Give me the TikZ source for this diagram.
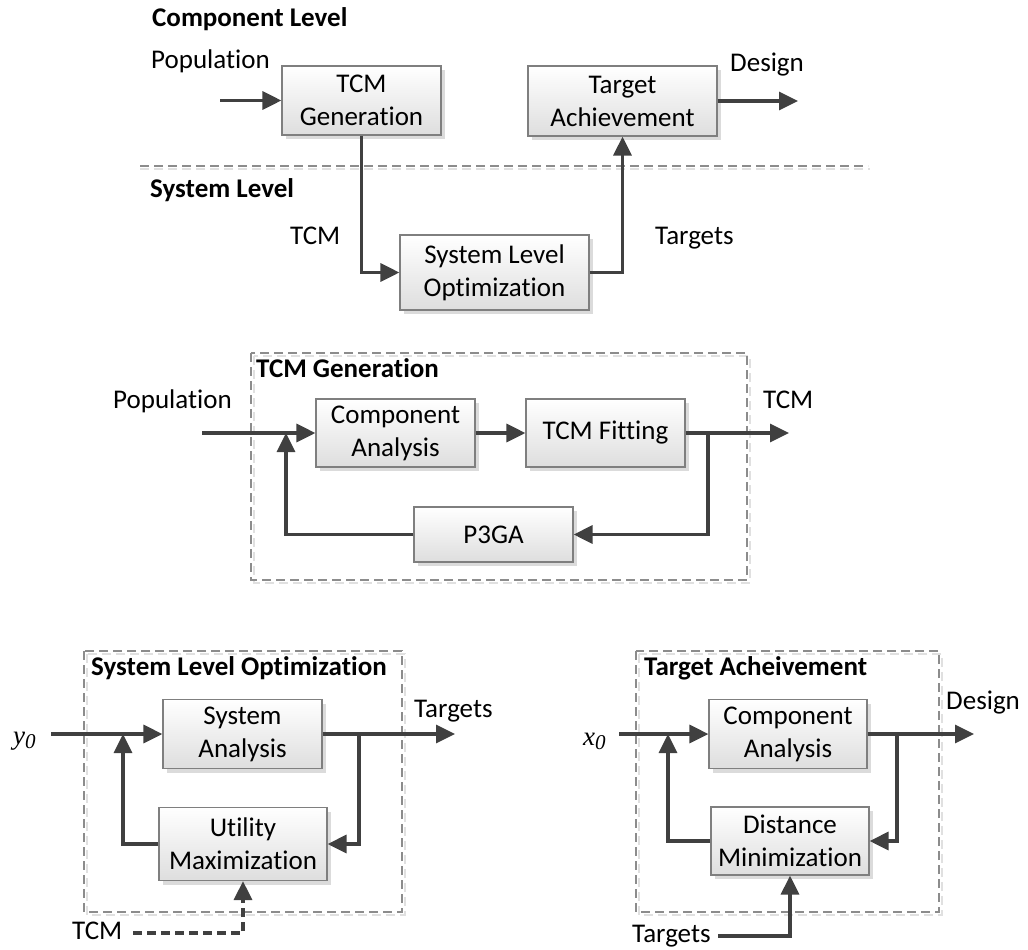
\documentclass[tikz,border=0pt]{standalone}
\usepackage{fontspec}
\setmainfont{Carlito}[RawFeature={-liga;-clig;-dlig}]
\newfontfamily\mathserif{Liberation Serif}
\usetikzlibrary{arrows.meta,shadows}

\definecolor{linegray}{HTML}{404040}
\definecolor{boxedge}{HTML}{7F7F7F}
\definecolor{framegray}{HTML}{8C8C8C}

\tikzset{
  block/.style={draw=boxedge, line width=1.2pt, top color=white, bottom color=black!13,
    align=center, inner sep=0pt, font=\fontsize{27}{33}\selectfont,
    drop shadow={shadow xshift=4pt, shadow yshift=-4pt, fill=black!14, opacity=1}},
  flow/.style={draw=linegray, line width=3.2pt},
  arr/.style={flow, -{Triangle[length=19pt, width=18pt]}},
  lbl/.style={inner sep=0pt, font=\fontsize{27}{33}\selectfont, text height=19pt, text depth=5pt},
  head/.style={lbl, font=\fontsize{27}{33}\selectfont\bfseries},
  frame/.style={draw=framegray, line width=1.2pt, dash pattern=on 9pt off 5pt},
  frameshadow/.style={draw=black!12, line width=1.2pt, dash pattern=on 9pt off 5pt},
}

\newcommand{\varsub}[2]{{\mathserif\itshape #1\raisebox{-0.35ex}{\fontsize{21}{24}\selectfont #2}}}

\begin{document}
\begin{tikzpicture}[x=1pt, y=-1pt]
\useasboundingbox[fill=white] (0,0) rectangle (1028,950);

% ---------- Component / system level overview ----------
\draw[frameshadow] (140,169) -- (870,169);
\draw[frame, draw=black!45] (140,166) -- (868,166);

\node[head, anchor=west] (hcomp) at (152,20) {Component Level};
\node[head, anchor=west] (hsys) at (150,190) {System Level};

\node[block, minimum width=159pt, minimum height=69pt] (tcmgen) at (361.5,100.5) {TCM\\Generation};
\node[block, minimum width=189pt, minimum height=70pt] (tach) at (622.5,101) {Target\\Achievement};
\node[block, minimum width=189pt, minimum height=75pt] (slo) at (494.5,272.5) {System Level\\Optimization};

\node[lbl, anchor=west] (lpop1) at (151,62) {Population};
\node[lbl, anchor=west] (ldes1) at (730,64) {Design};
\node[lbl, anchor=west] (ltcm1) at (290,237) {TCM};
\node[lbl, anchor=west] (ltar1) at (655,237) {Targets};

\coordinate (popin) at (220,100.5);
\coordinate (desout) at (798,101);

\draw[arr] (popin) -- (tcmgen.west);
\draw[arr] (tcmgen.south) |- (slo.west);
\draw[arr] (slo.east) -| (tach.south);
\draw[arr] (tach.east) -- (desout);

% ---------- TCM generation loop ----------
\draw[frameshadow] (254,356) rectangle (750,583);
\draw[frame] (251,353) rectangle (747,580);
\node[head, anchor=west] (htcm) at (256,370) {TCM Generation};

\node[block, minimum width=159pt, minimum height=68pt] (ca1) at (395.5,433) {Component\\Analysis};
\node[block, minimum width=159pt, minimum height=68pt] (fit) at (605.5,433) {TCM Fitting};
\node[block, minimum width=159pt, minimum height=55pt] (p3ga) at (493.5,534.5) {P3GA};

\node[lbl, anchor=east] (lpop2) at (232,401) {Population};
\node[lbl, anchor=west] (ltcm2) at (763,401) {TCM};

\coordinate (popin2) at (202,433);
\coordinate (tcmout) at (789,433);
\coordinate (split1) at (708,433);
\coordinate (merge1) at (286,433);

\draw[arr] (popin2) -- (ca1.west);
\draw[arr] (ca1.east) -- (fit.west);
\draw[arr] (fit.east) -- (tcmout);
\draw[arr] (split1) |- (p3ga.east);
\draw[arr] (p3ga.west) -| (merge1);

% ---------- System level optimization loop ----------
\draw[frameshadow] (87,654) rectangle (405,915);
\draw[frame] (84,651) rectangle (402,912);
\node[head, anchor=west] (hslo) at (91,668) {System Level Optimization};

\node[block, minimum width=159pt, minimum height=69pt] (sa) at (242.5,734) {System\\Analysis};
\node[block, minimum width=168pt, minimum height=73pt] (um) at (243,844) {Utility\\Maximization};

\node[lbl, anchor=west] (ly0) at (13,737) {\varsub{y}{0}};
\node[lbl, anchor=west] (ltar2) at (414,710) {Targets};
\node[lbl, anchor=west] (ltcm3) at (72,932) {TCM};

\coordinate (y0in) at (51,734);
\coordinate (tarout) at (455,734);
\coordinate (split2) at (359,734);
\coordinate (merge2) at (123,734);
\coordinate (tcmin) at (133,933);

\draw[arr] (y0in) -- (sa.west);
\draw[arr] (sa.east) -- (tarout);
\draw[arr] (split2) |- (um.east);
\draw[arr] (um.west) -| (merge2);
\draw[arr, dash pattern=on 9pt off 5pt] (tcmin) -| (um.south);

% ---------- Target achievement loop ----------
\draw[frameshadow] (639,654) rectangle (942,915);
\draw[frame] (636,651) rectangle (939,912);
\node[head, anchor=west] (hta) at (644,668) {Target Acheivement};

\node[block, minimum width=158pt, minimum height=69pt] (ca2) at (788,734) {Component\\Analysis};
\node[block, minimum width=158pt, minimum height=68pt] (dm) at (790,841) {Distance\\Minimization};

\node[lbl, anchor=west] (lx0) at (583,738) {\varsub{x}{0}};
\node[lbl, anchor=west] (ldes2) at (946,702) {Design};
\node[lbl, anchor=west] (ltar3) at (632,935) {Targets};

\coordinate (x0in) at (619,734);
\coordinate (desout2) at (974,734);
\coordinate (split3) at (897,734);
\coordinate (merge3) at (668,734);
\coordinate (tarin) at (718,936);

\draw[arr] (x0in) -- (ca2.west);
\draw[arr] (ca2.east) -- (desout2);
\draw[arr] (split3) |- (dm.east);
\draw[arr] (dm.west) -| (merge3);
\draw[arr] (tarin) -| (dm.south);
\end{tikzpicture}
\end{document}
